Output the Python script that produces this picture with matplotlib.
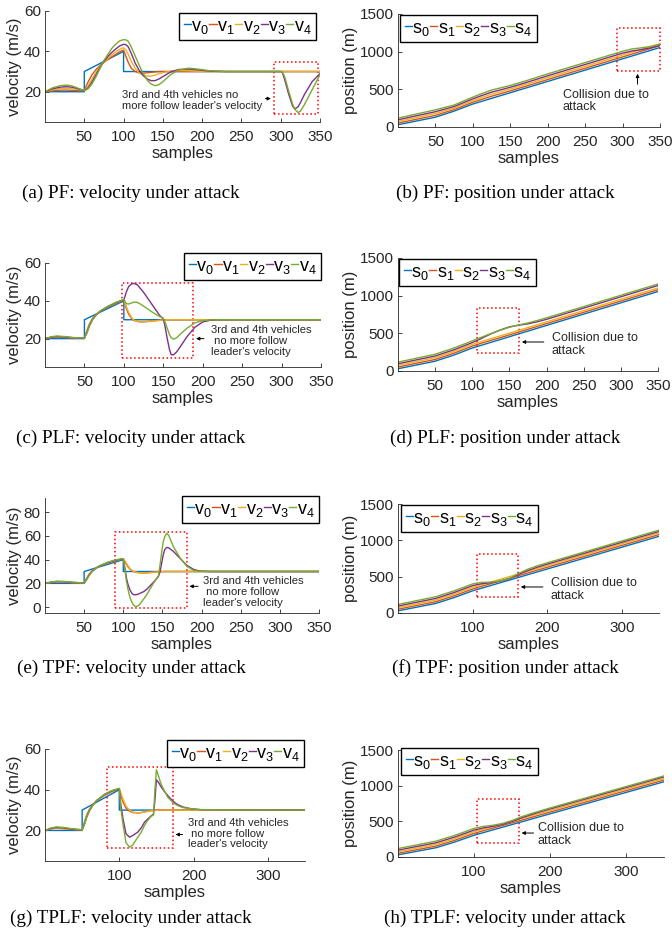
import matplotlib
matplotlib.use('Agg')
import matplotlib.pyplot as plt
from matplotlib.patches import Rectangle

plt.rcParams['font.family'] = ['Liberation Sans', 'DejaVu Sans']
plt.rcParams['mathtext.fontset'] = 'custom'
plt.rcParams['mathtext.rm'] = 'Liberation Sans'
plt.rcParams['mathtext.it'] = 'Liberation Sans'

COLORS = ['#0072BD', '#D95319', '#EDB120', '#7E2F8E', '#77AC30']
AX_COLOR = '#262626'

# ---------------- leader velocity (same in all schemes) ----------------
lead_t = [0, 50, 50, 100, 100, 350]
lead_v = [20, 20, 30, 40, 30, 30]

# ---------------- (a) PF velocity ----------------
pf_t = [0, 10, 20, 28, 35, 45, 50, 55, 60, 65, 70, 75, 80, 85, 90, 95, 100, 103, 106, 110, 115, 120, 125, 130,
        135, 140, 145, 150, 160, 170, 183, 195, 210, 230, 300, 302, 305, 310, 315, 318, 322, 325, 330, 340, 350]
pf_v1 = [20, 20.5, 20.8, 20.8, 20.7, 20.5,
         20.8, 25, 28.5, 31, 33, 34.5, 36, 37.3, 38.5, 39.8,
         40.6, 37.5, 34.5, 31.5, 30, 29.3, 29.2, 29.4, 29.6, 29.8,
         30, 30, 30, 30, 30, 30, 30, 30,
         30, 30, 30, 30, 30, 30, 30, 30, 30, 30, 30]
pf_v2 = [20, 21, 21.6, 21.7, 21.5, 21,
         20.6, 23, 26.5, 29.5, 32.5, 34.5, 36.5, 38.3, 39.8, 41,
         41.8, 40.8, 38.5, 35, 31.5, 29.3, 28.2, 27.7, 27.8, 28.2,
         28.9, 29.5, 30.2, 30.5, 30.4, 30.1, 30, 30,
         30, 30, 30, 30, 30, 30, 30, 30, 30, 30, 30]
pf_v3 = [20, 21.5, 22.3, 22.5, 22.2, 21.2,
         20.5, 22, 25, 28.5, 32, 35, 37.5, 39.5, 41.2, 42.7,
         43.5, 43.3, 42.2, 38.8, 34, 30.5, 28, 26.3, 25.5, 25.5,
         26.3, 27.5, 29.8, 31, 31.2, 30.8, 30.2, 30,
         30, 29.6, 26, 19, 13, 11.5, 12.5, 14.5, 18.5, 25, 29]
pf_v4 = [20, 22, 23, 23.3, 22.8, 21.3,
         20.4, 21.5, 24, 27.5, 31.5, 35.5, 38.5, 41.5, 43.5, 45.2,
         45.8, 45.7, 45, 42, 37.5, 33, 29, 25.8, 23.8, 23,
         23.5, 25, 28.5, 30.8, 31.7, 31.2, 30.4, 30,
         30, 29.8, 27.5, 20.5, 14, 11.3, 9.7, 10.3, 13.5, 21, 28.5]

# ---------------- (c) PLF velocity ----------------
plf_t = [0, 8, 15, 25, 35, 50, 53, 56, 60, 65, 70, 80, 90, 100, 103, 106, 110, 113, 117, 121, 125, 130, 135, 140,
         145, 148, 150, 152, 155, 158, 160, 163, 167, 172, 180, 190, 200, 210, 220, 350]
plf_v1 = [20, 20.6, 20.8, 20.6, 20.4, 20.3,
          24, 27.5, 30.5, 32.8, 34.5, 36.8, 38.6, 40.5,
          36, 33, 30.5, 29.6, 29.1, 28.9, 28.9, 29.1, 29.3, 29.5,
          29.7, 29.8, 29.9, 29.9, 30, 30, 30, 30, 30, 30,
          30, 30, 30, 30, 30, 30]
plf_v2 = [20, 20.7, 21, 20.8, 20.5, 20.3,
          23.5, 27, 30.2, 32.7, 34.5, 36.9, 38.8, 40.6,
          37, 34, 31, 29.8, 29.1, 28.9, 28.9, 29, 29.2, 29.4,
          29.6, 29.8, 29.9, 29.9, 30, 30, 30, 30, 30, 30,
          30, 30, 30, 30, 30, 30]
plf_v3 = [20, 20.8, 21.1, 20.9, 20.5, 20.3,
          23, 26.5, 30, 32.6, 34.5, 37, 39, 40.5,
          44.5, 47.5, 49, 49.2, 48.5, 46.5, 44.5, 41.5, 38.5, 35.5,
          32.5, 31.2, 30.5, 27, 20, 14, 11.5, 11.5, 13, 16,
          21, 26, 28.8, 29.8, 30, 30]
plf_v4 = [20, 21, 21.4, 21.1, 20.6, 20.3,
          22.8, 26.3, 29.8, 32.5, 34.6, 37.2, 39.2, 40.8,
          38.5, 38.3, 38.9, 39.3, 39.2, 38.3, 37.2, 35.8, 34.3, 33,
          31.8, 31.2, 30.8, 29, 25.5, 22, 20.5, 19.7, 20.5, 22.5,
          25.5, 28.3, 29.5, 29.9, 30, 30]

# ---------------- (e) TPF velocity ----------------
tpf_t = [0, 8, 15, 25, 35, 50, 53, 56, 60, 65, 70, 80, 90, 100, 102, 104, 106, 108.5, 111, 113, 116, 120, 126, 130,
         134, 138, 143, 145, 147, 149, 151, 153, 155.5, 158, 164, 172.6, 181, 190, 198, 210, 350]
tpf_v1 = [20, 20.7, 21.2, 21, 20.6, 20.3,
          24, 27.5, 30.5, 33, 34.8, 37.2, 39, 40.6,
          38.5, 36, 34, 32, 30.7, 30, 29.3, 29, 28.8, 28.9,
          29.1, 29.3, 29.6, 29.7, 29.8, 29.9, 29.9, 30, 30, 30,
          30, 30, 30, 30, 30, 30, 30]
tpf_v2 = [20, 20.8, 21.4, 21.2, 20.7, 20.3,
          23.5, 27, 30.2, 32.8, 34.8, 37.4, 39.3, 40.7,
          39, 37, 35, 32.5, 31, 30.2, 29.4, 29, 28.8, 28.9,
          29.1, 29.3, 29.6, 29.7, 29.8, 29.9, 29.9, 30, 30, 30,
          30, 30, 30, 30, 30, 30, 30]
tpf_v3 = [20, 21, 21.6, 21.4, 20.8, 20.3,
          23, 26.5, 30, 32.7, 34.8, 37.6, 39.5, 40.7,
          33, 24.7, 19, 14.5, 11.5, 10.5, 10.3, 11.2, 13, 15,
          17.8, 20.5, 24.2, 26, 30, 37, 44, 48.5, 50.3, 50,
          47, 41, 35.3, 31.7, 30.3, 30, 30]
tpf_v4 = [20, 21.2, 21.8, 21.6, 21, 20.3,
          22.8, 26.3, 29.8, 32.6, 34.8, 37.8, 39.8, 41,
          32, 22, 15, 8, 4, 1.7, 0.3, 1.5, 6.7, 10.5,
          15, 19.5, 24.7, 26.5, 35.8, 46, 55, 59.5, 62.2, 60.5,
          51, 41.4, 34.5, 30.8, 30.2, 30, 30]

# ---------------- (g) TPLF velocity ----------------
tplf_t = [0, 8, 15, 25, 35, 50, 53, 56, 60, 65, 70, 80, 90, 100, 102, 105, 109, 113.8, 118, 125, 130, 134, 138, 143,
          146, 148, 150, 153, 156, 160, 165, 172, 178, 186, 196, 210, 350]
tplf_v1 = [20, 20.8, 21.1, 20.9, 20.5, 20.3,
           24, 27.5, 30.5, 33, 34.8, 37.2, 39, 40.5,
           37.5, 34, 31, 29.5, 28.8, 28.6, 28.8, 29.1, 29.4, 29.7,
           29.8, 29.9, 29.9, 30, 30, 30, 30, 30, 30, 30,
           30, 30, 30]
tplf_v2 = [20, 20.9, 21.3, 21.1, 20.6, 20.3,
           23.5, 27, 30.2, 32.8, 34.8, 37.4, 39.2, 40.6,
           38.5, 35.5, 32, 30, 29, 28.7, 28.8, 29.1, 29.4, 29.7,
           29.8, 29.9, 29.9, 30, 30, 30, 30, 30, 30, 30,
           30, 30, 30]
tplf_v3 = [20, 21, 21.5, 21.3, 20.7, 20.3,
           23, 26.5, 30, 32.7, 34.8, 37.6, 39.4, 40.5,
           33, 25.7, 18.4, 16.7, 17.5, 19.2, 21.5, 24.1, 25.5, 27.2,
           28, 35, 44.9, 43.5, 41.6, 39.5, 37.2, 34.5, 32.8, 31.5,
           30.7, 30.2, 30]
tplf_v4 = [20, 21.2, 21.7, 21.5, 20.9, 20.3,
           22.8, 26.3, 29.8, 32.6, 34.8, 37.8, 39.6, 40.7,
           31, 23, 14, 11.8, 12.8, 16.7, 19.5, 22.5, 24.8, 27,
           27.5, 40, 49.8, 46.5, 43, 40, 36.4, 33.8, 32.3, 31.2,
           30.7, 30.2, 30]

# ---------------- positions ----------------
pos_t = [0, 25, 50, 75, 100, 112, 125, 137, 150, 162, 175, 187, 200, 250, 300, 312, 325, 337, 350]
pos_s0 = [30, 80, 130, 211, 305, 341, 380, 416, 455, 491, 530, 566, 605, 755, 905, 941, 980, 1016, 1055]

pf_s1 = [52, 103, 154, 231, 328, 367, 408, 442, 479, 515, 554, 590, 630, 780, 930, 966, 1005, 1041, 1080]
pf_s2 = [74, 126, 179, 251, 351, 393, 436, 468, 504, 539, 578, 615, 655, 805, 955, 991, 1030, 1066, 1105]
pf_s3 = [96, 150, 203, 272, 374, 418, 463, 493, 528, 562, 602, 639, 680, 830, 980, 1008, 1027, 1050, 1083]
pf_s4 = [118, 173, 228, 292, 397, 444, 491, 519, 552, 586, 626, 664, 705, 855, 1005, 1035, 1051, 1068, 1099]

plf_s1 = [52, 103, 153, 235, 330, 368, 406, 441, 479, 515, 554, 590, 629, 779, 929, 965, 1004, 1040, 1079]
plf_s2 = [74, 125, 176, 258, 353, 391, 429, 464, 502, 538, 577, 613, 652, 802, 952, 988, 1027, 1063, 1102]
plf_s3 = [96, 148, 199, 281, 377, 431, 493, 542, 586, 608, 626, 652, 686, 835, 985, 1021, 1060, 1096, 1135]
plf_s4 = [118, 170, 222, 304, 400, 447, 497, 540, 581, 610, 638, 669, 706, 855, 1005, 1041, 1080, 1116, 1155]

tpf_s1 = [52, 103, 153, 235, 330, 367, 405, 440, 479, 515, 554, 590, 629, 779, 929, 965, 1004, 1040, 1079]
tpf_s2 = [74, 125, 176, 258, 353, 390, 428, 463, 502, 538, 577, 613, 652, 802, 952, 988, 1027, 1063, 1102]
tpf_s3 = [96, 148, 199, 281, 377, 403, 418, 438, 474, 532, 588, 631, 672, 822, 972, 1008, 1047, 1083, 1122]
tpf_s4 = [118, 170, 222, 304, 400, 421, 425, 440, 479, 547, 607, 650, 690, 840, 990, 1026, 1065, 1101, 1140]

tplf_s1 = [52, 103, 153, 235, 330, 367, 405, 440, 479, 515, 554, 590, 629, 779, 929, 965, 1004, 1040, 1079]
tplf_s2 = [74, 125, 176, 258, 353, 390, 428, 463, 502, 538, 577, 613, 652, 802, 952, 988, 1027, 1063, 1102]
tplf_s3 = [96, 148, 199, 281, 377, 407, 430, 456, 497, 547, 593, 632, 673, 823, 973, 1009, 1048, 1084, 1123]
tplf_s4 = [118, 170, 222, 304, 400, 428, 445, 469, 511, 562, 608, 646, 687, 837, 987, 1023, 1062, 1098, 1137]

vel_labels = [r'$\mathregular{v_%d}$' % i for i in range(5)]
pos_labels = [r'$\mathregular{s_%d}$' % i for i in range(5)]

captions = ['(a) PF: velocity under attack', '(b) PF: position under attack',
            '(c) PLF: velocity under attack', '(d) PLF: position under attack',
            '(e) TPF: velocity under attack', '(f) TPF: position under attack',
            '(g) TPLF: velocity under attack', '(h) TPLF: velocity under attack']

vel_note_a = "3rd and 4th vehicles no\nmore follow leader's velocity"
vel_note = "3rd and 4th vehicles\n no more follow\nleader's velocity"
pos_note = "Collision due to\nattack"

W, H = 672, 948
fig = plt.figure(figsize=(W / 100, H / 100), dpi=100)


def rect(l, t, r, b):
    return [l / W, 1 - b / H, (r - l) / W, (b - t) / H]


def style(ax, xticks, yticks, xlim, ylim, ylabel):
    for s in ['top', 'right']:
        ax.spines[s].set_visible(False)
    for s in ['left', 'bottom']:
        ax.spines[s].set_color(AX_COLOR)
        ax.spines[s].set_linewidth(0.6)
    ax.tick_params(direction='in', length=3, width=0.6, colors=AX_COLOR, labelsize=11)
    ax.tick_params(axis='x', pad=6)
    ax.tick_params(axis='y', pad=3)
    ax.set_xticks(xticks)
    ax.set_yticks(yticks)
    ax.set_xlim(*xlim)
    ax.set_ylim(*ylim)
    ax.set_xlabel('samples', fontsize=12, color=AX_COLOR, labelpad=1)
    ax.set_ylabel(ylabel, fontsize=12, color=AX_COLOR, labelpad=1)


def legend(ax, handles, labels, loc, x, y):
    ax.legend(handles, labels, loc=loc, bbox_to_anchor=(x / W, 1 - y / H), bbox_transform=fig.transFigure,
              ncol=5, fontsize=13, handlelength=0.4, handletextpad=0.02, columnspacing=0.02,
              borderpad=0.25, borderaxespad=0, frameon=True, fancybox=False, framealpha=1,
              edgecolor='black')


def vel_panel(r, t, followers, xticks, yticks, ylim, legpos, box, arrow, note, notexy):
    ax = fig.add_axes(rect(*r))
    hs = [ax.plot(lead_t, lead_v, color=COLORS[0], lw=1)[0]]
    for i, v in enumerate(followers):
        hs.append(ax.plot(t, v, color=COLORS[i + 1], lw=1)[0])
    style(ax, xticks, yticks, (0, 350), ylim, 'velocity (m/s)')
    legend(ax, hs, vel_labels, 'upper right', *legpos)
    ax.add_patch(Rectangle((box[0], box[1]), box[2] - box[0], box[3] - box[1], fill=False,
                           ls=':', ec='red', lw=1.1, clip_on=False))
    ax.annotate('', xy=arrow[1], xytext=arrow[0],
                arrowprops=dict(arrowstyle='-|>', color='black', lw=0.7, mutation_scale=5))
    ax.text(notexy[0], notexy[1], note, ha='left', va='center', fontsize=8.1, color=AX_COLOR,
            linespacing=1.1)
    return ax


def pos_panel(r, series, xticks, legpos, box, arrow, note, notexy):
    ax = fig.add_axes(rect(*r))
    hs = []
    for i, s in enumerate(series):
        hs.append(ax.plot(pos_t, s, color=COLORS[i], lw=1)[0])
    style(ax, xticks, [0, 500, 1000, 1500], (0, 350), (0, 1500), 'position (m)')
    legend(ax, hs, pos_labels, 'upper left', *legpos)
    ax.add_patch(Rectangle((box[0], box[1]), box[2] - box[0], box[3] - box[1], fill=False,
                           ls=':', ec='red', lw=1.1, clip_on=False))
    ax.annotate('', xy=arrow[1], xytext=arrow[0],
                arrowprops=dict(arrowstyle='-|>', color='black', lw=0.7, mutation_scale=5))
    ax.text(notexy[0], notexy[1], note, ha='left', va='center', fontsize=9, color=AX_COLOR,
            linespacing=1.1)
    return ax


x7 = [50, 100, 150, 200, 250, 300, 350]
x3 = [100, 200, 300]

# (a)
vel_panel((45, 11, 320, 122), pf_t, [pf_v1, pf_v2, pf_v3, pf_v4], x7, [20, 40, 60], (5, 60),
          (316, 13), (291, 9, 347, 34.5), ((277, 16.6), (291, 16.6)), vel_note_a, (98, 15.8))
# (b)
pos_panel((398, 14, 660, 127), [pos_s0, pf_s1, pf_s2, pf_s3, pf_s4], x7, (400, 15),
          (293, 744, 350, 1315), ((320, 531), (320, 744)), pos_note, (220, 345))
# (c)
vel_panel((45, 263, 321, 367), plf_t, [plf_v1, plf_v2, plf_v3, plf_v4], x7, [20, 40, 60], (5, 60),
          (321, 253), (97.5, 10, 188, 49.5), ((205, 20), (188, 20)), vel_note, (210, 18.9))
# (d)
pos_panel((398, 258, 658, 371), [pos_s0, plf_s1, plf_s2, plf_s3, plf_s4], x7, (399, 259),
          (107, 240, 163, 835), ((200, 385), (163, 385)), pos_note, (207, 352))
# (e)
vel_panel((45, 498, 319, 613), tpf_t, [tpf_v1, tpf_v2, tpf_v3, tpf_v4], x7, [0, 20, 40, 60, 80], (-5, 92),
          (319, 496), (89.5, -1, 181, 63), ((199, 17.5), (181, 17.5)), vel_note, (202, 12.5))
# (f)
pos_panel((398, 504, 659, 613), [pos_s0, tpf_s1, tpf_s2, tpf_s3, tpf_s4], x3, (401, 505),
          (106, 220, 161, 812), ((198, 358), (161, 358)), pos_note, (205, 323))
# (g)
vel_panel((45, 749, 305, 861), tplf_t, [tplf_v1, tplf_v2, tplf_v3, tplf_v4], x3, [20, 40, 60], (5, 60),
          (304, 740), (84, 11.2, 172, 51.2), ((189, 18), (172, 18)), vel_note, (192, 18.5))
# (h)
pos_panel((398, 750, 664, 857), [pos_s0, tplf_s1, tplf_s2, tplf_s3, tplf_s4], x3, (401, 748),
          (104, 196, 159, 813), ((182, 336), (159, 336)), pos_note, (184, 315))

cap_y = [193, 438, 668, 918]
for k, cap in enumerate(captions):
    x = 131 if k % 2 == 0 else 505
    fig.text(x / W, 1 - cap_y[k // 2] / H, cap, ha='center', va='center',
             family=['Liberation Serif', 'DejaVu Serif'], fontsize=13.8, color='black')

fig.savefig('out.png', dpi=100)
